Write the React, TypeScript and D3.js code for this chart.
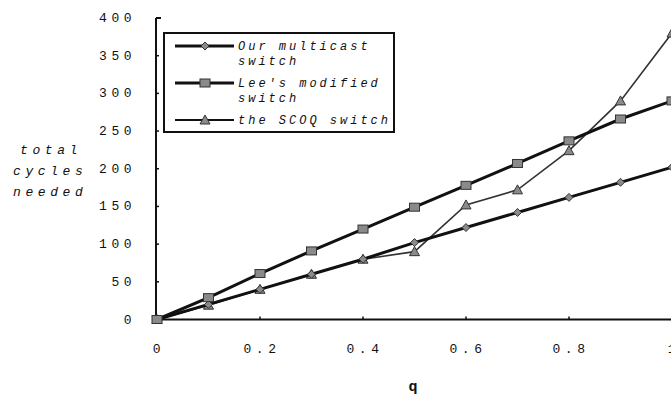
import React from "react";
import * as d3 from "d3";

const qValues = [0, 0.1, 0.2, 0.3, 0.4, 0.5, 0.6, 0.7, 0.8, 0.9, 1.0];
const ourMulticast = [0, 20, 40, 60, 80, 102, 122, 142, 162, 182, 202];
const leesModified = [0, 29, 61, 91, 120, 149, 178, 207, 237, 266, 290];
const scoqSwitch = [0, 19, 40, 60, 80, 90, 152, 172, 224, 290, 380];
const yTicks = [0, 50, 100, 150, 200, 250, 300, 350, 400];
const xTicks = [0, 0.2, 0.4, 0.6, 0.8, 1];
const xTickLabels = ["0", "0.2", "0.4", "0.6", "0.8", "1"];
const legendLabels = [["Our multicast", "switch"], ["Lee's modified", "switch"], ["the SCOQ switch"]];

const W = 671;
const H = 397;
const MONO = "'Liberation Mono', 'DejaVu Sans Mono', monospace";

function Marker({ kind, cx, cy }: { kind: string; cx: number; cy: number }) {
  if (kind === "diamond") {
    return <path d={`M${cx},${cy - 4}L${cx + 4},${cy}L${cx},${cy + 4}L${cx - 4},${cy}Z`} fill="#8a8a8a" stroke="#333" strokeWidth={1} />;
  }
  if (kind === "square") {
    return <rect x={cx - 5} y={cy - 4} width={10} height={8} fill="#8a8a8a" stroke="#333" strokeWidth={1} />;
  }
  return <path d={`M${cx},${cy - 5}L${cx + 5},${cy + 4}L${cx - 5},${cy + 4}Z`} fill="#8a8a8a" stroke="#333" strokeWidth={1} />;
}

export default function App() {
  const x = d3.scaleLinear().domain([0, 1]).range([157, 672]);
  const y = d3.scaleLinear().domain([0, 400]).range([319.5, 18]);
  const line = d3.line<[number, number]>().x((d) => x(d[0])).y((d) => y(d[1]));

  const series = [
    { data: scoqSwitch, kind: "triangle", width: 1.6, color: "#333" },
    { data: ourMulticast, kind: "diamond", width: 3, color: "#111" },
    { data: leesModified, kind: "square", width: 3, color: "#111" },
  ];

  const legendKinds = ["diamond", "square", "triangle"];
  const legendWidths = [3, 3, 2];
  const legendY = [46, 83, 120];

  return (
    <svg width={W} height={H} style={{ position: "absolute", left: 0, top: 0, background: "#fff" }}>
      <rect width={W} height={H} fill="#fff" />
      {/* axes */}
      <line x1={156} x2={156} y1={y(400)} y2={y(0)} stroke="#111" strokeWidth={2} />
      <line x1={156} x2={161} y1={y(400)} y2={y(400)} stroke="#111" strokeWidth={2} />
      <line x1={156} x2={W} y1={y(0)} y2={y(0)} stroke="#111" strokeWidth={2} />
      {yTicks.map((t) => (
        <g key={"yt" + t}>
          <line x1={156} x2={159} y1={y(t)} y2={y(t)} stroke="#111" strokeWidth={1.5} />
          <text x={136} y={y(t) + 4} textAnchor="end" fontFamily={MONO} fontSize={13} letterSpacing={4.5} fill="#111">
            {t}
          </text>
        </g>
      ))}
      {xTicks.map((t, i) => (
        <g key={"xt" + t}>
          <line x1={x(t)} x2={x(t)} y1={y(0)} y2={y(0) - 3} stroke="#111" strokeWidth={1.5} />
          <text x={x(t) + 2} y={353} textAnchor="middle" fontFamily={MONO} fontSize={13} letterSpacing={4.5} fill="#111">
            {xTickLabels[i]}
          </text>
        </g>
      ))}
      {/* axis titles */}
      {["total", "cycles", "needed"].map((w, i) => (
        <text key={w} x={i === 0 ? 20 : 13} y={154 + i * 21} fontFamily={MONO} fontStyle="italic" fontSize={13} letterSpacing={4.6} fill="#111">
          {w}
        </text>
      ))}
      <text x={413} y={391} textAnchor="middle" fontFamily={MONO} fontWeight="bold" fontSize={15} fill="#111">
        q
      </text>
      {/* series */}
      {series.map((s, si) => (
        <g key={"s" + si}>
          <path d={line(qValues.map((q, i) => [q, s.data[i]]) as [number, number][]) || ""} fill="none" stroke={s.color} strokeWidth={s.width} />
          {qValues.map((q, i) => (
            <Marker key={i} kind={s.kind} cx={x(q)} cy={y(s.data[i])} />
          ))}
        </g>
      ))}
      {/* legend */}
      <rect x={164} y={33} width={230} height={99} fill="#fff" stroke="#111" strokeWidth={2} />
      {legendLabels.map((lines, i) => (
        <g key={"lg" + i}>
          <line x1={175} x2={234} y1={legendY[i]} y2={legendY[i]} stroke="#111" strokeWidth={legendWidths[i]} />
          <Marker kind={legendKinds[i]} cx={205} cy={legendY[i]} />
          {lines.map((l, j) => (
            <text key={j} x={238} y={legendY[i] + 4 + j * 15} fontFamily={MONO} fontStyle="italic" fontSize={12} letterSpacing={3} fill="#111">
              {l}
            </text>
          ))}
        </g>
      ))}
    </svg>
  );
}
